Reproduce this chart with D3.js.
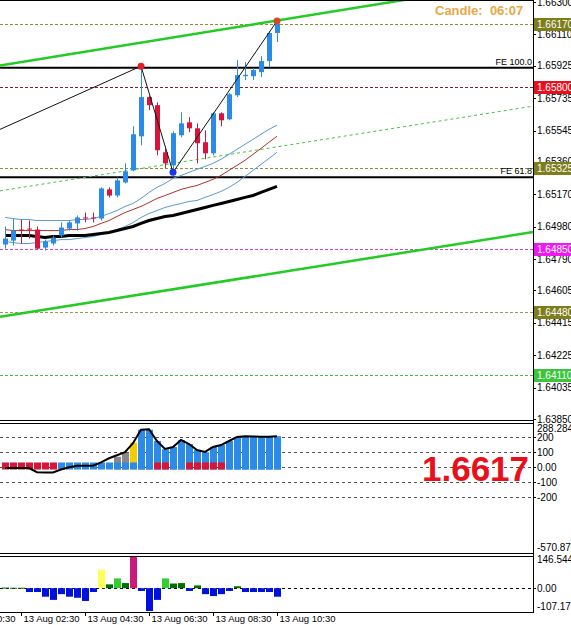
<!DOCTYPE html>
<html>
<head>
<meta charset="utf-8">
<script src="https://cdn.jsdelivr.net/npm/d3@7.9.0/dist/d3.min.js"></script>
<style>
  body { margin: 0; background: #fff; }
  svg { display: block; }
  text { font-family: "Liberation Sans", Arial, sans-serif; }
</style>
</head>
<body>
<svg id="chart" width="571" height="625"></svg>
<script>
// -------------------------
// Data (15 min bars, 13 Aug 02:00 .. 10:30)
// -------------------------
const opens  = [1.64875,1.64898,1.64963,1.64969,1.64963,1.64857,1.64881,1.64928,1.64969,1.64999,1.65034,1.65034,1.65028,1.65199,1.65163,1.65240,1.65311,1.65511,1.65741,1.65694,1.65417,1.65340,1.65517,1.65593,1.65558,1.65476,1.65411,1.65646,1.65611,1.65752,1.65864,1.65864,1.65888,1.65953,1.66118];
const highs  = [1.64981,1.65028,1.65022,1.65016,1.64981,1.64904,1.64928,1.65005,1.65016,1.65046,1.65063,1.65063,1.65211,1.65211,1.65270,1.65352,1.65570,1.65923,1.65747,1.65711,1.65440,1.65540,1.65652,1.65623,1.65587,1.65546,1.65652,1.65652,1.65764,1.65959,1.65947,1.65912,1.65982,1.66129,1.66188];
const lows   = [1.64851,1.64869,1.64881,1.64910,1.64846,1.64840,1.64869,1.64916,1.64957,1.64957,1.65005,1.65005,1.65016,1.65152,1.65152,1.65234,1.65305,1.65458,1.65664,1.65399,1.65323,1.65299,1.65505,1.65535,1.65352,1.65376,1.65399,1.65570,1.65605,1.65741,1.65841,1.65841,1.65859,1.65917,1.66065];
const closes = [1.64910,1.64957,1.64957,1.64963,1.64851,1.64893,1.64916,1.64975,1.65005,1.65034,1.65028,1.65028,1.65205,1.65163,1.65252,1.65305,1.65523,1.65741,1.65694,1.65429,1.65352,1.65529,1.65587,1.65558,1.65470,1.65411,1.65646,1.65605,1.65758,1.65870,1.65872,1.65900,1.65953,1.66118,1.66171];

// envelope / moving averages
const maUpper = [1.65034,1.65028,1.65022,1.65022,1.65016,1.65016,1.65016,1.65016,1.65016,1.65022,1.65022,1.65028,1.65040,1.65057,1.65075,1.65099,1.65116,1.65146,1.65181,1.65211,1.65234,1.65264,1.65281,1.65299,1.65317,1.65334,1.65352,1.65376,1.65405,1.65434,1.65464,1.65493,1.65523,1.65552,1.65576];
const maMid   = [1.64963,1.64957,1.64957,1.64957,1.64957,1.64957,1.64957,1.64957,1.64963,1.64963,1.64969,1.64981,1.64999,1.65016,1.65040,1.65063,1.65081,1.65099,1.65122,1.65146,1.65163,1.65181,1.65199,1.65211,1.65222,1.65240,1.65258,1.65281,1.65311,1.65340,1.65370,1.65405,1.65440,1.65476,1.65511];
const maLower = [1.64893,1.64887,1.64881,1.64881,1.64887,1.64893,1.64898,1.64904,1.64904,1.64910,1.64916,1.64922,1.64934,1.64946,1.64963,1.64981,1.65004,1.65034,1.65057,1.65075,1.65093,1.65105,1.65116,1.65128,1.65134,1.65152,1.65169,1.65187,1.65211,1.65240,1.65275,1.65311,1.65346,1.65381,1.65417];
const maSlow  = [1.64928,1.64928,1.64928,1.64928,1.64922,1.64916,1.64922,1.64922,1.64928,1.64928,1.64928,1.64934,1.64940,1.64946,1.64957,1.64969,1.64981,1.64999,1.65016,1.65028,1.65040,1.65046,1.65057,1.65069,1.65081,1.65093,1.65105,1.65116,1.65128,1.65140,1.65152,1.65163,1.65181,1.65199,1.65217];

// zigzag swing points (bar index, price)
const zigzag = [[-10, 1.65354], [17, 1.65923], [21, 1.65299], [34, 1.66188]];

// channel lines, two anchors each (bar index, price)
const channelUpper = [[0, 1.65932], [34, 1.66191]];
const channelMid   = [[0, 1.65195], [34, 1.65449]];
const channelLower = [[0, 1.64455], [34, 1.64709]];

// horizontal levels
const levelPrices = [1.66170, 1.65800, 1.65325, 1.64850, 1.64480, 1.64110];
const levelLabels = ['1.66170', '1.65800', '1.65325', '1.64850', '1.64480', '1.64110'];
const fePrices = [1.65914, 1.65270];
const feLabels = ['FE 100.0', 'FE 61.8'];

// price axis
const priceTicks = [1.66300,1.66110,1.65925,1.65735,1.65545,1.65360,1.65170,1.64980,1.64790,1.64605,1.64415,1.64225,1.64035,1.63850];

// time axis
const timeTickBars = [-6, 2, 10, 18, 26, 34];
const timeTickLabels = ['13 Aug 00:30', '13 Aug 02:30', '13 Aug 04:30', '13 Aug 06:30', '13 Aug 08:30', '13 Aug 10:30'];

// oscillator window 1
const oscLine = [-5,-5,-5,-5,-33,-35,-35,-15,0,10,10,10,33,60,80,100,160,250,253,175,122,135,182,155,115,102,135,148,175,202,207,205,203,203,207];
const oscHist = [null,null,null,null,null,null,null,null,null,null,null,null,null,null,70,95,165,250,250,175,120,135,180,155,115,100,135,148,175,200,207,205,203,203,207];
const oscHistType = ['','','','','','','','','','','','','','','flat','flat','warn','up','up','up','up','up','up','up','up','up','up','up','up','up','up','up','up','up','up'];
const oscBand = ['dn','dn','dn','dn','dn','dn','dn','up','up','up','up','up','up','up','up','up','up','up','up','dn','dn','up','up','dn','dn','dn','dn','dn','up','up','up','up','up','up','up'];
const oscBandRange = [-15, 32];
const oscGrid = [200, 100, 0, -100, -200];
const oscGridLabels = ['200', '100', '0.00', '-100', '-200'];
const oscDomain = [-570.878, 288.2847];
const lastPrice = '1.6617';

// oscillator window 2
const histValues = [3,2,2,-18,-18,-40,-55,-28,-40,-45,-60,-18,87,18,46,24,146.5449,-13,-107.173,-55,46,22,24,-13,13,-28,-37,-28,-13,9,-18,-18,-18,-18,-40];
const histType = ['dg','dg','dg','bl','bl','bl','bl','bl','bl','bl','bl','bl','ye','dg','lg','dg','mg','bl','bl','bl','lg','dg','dg','bl','dg','bl','bl','bl','bl','dg','bl','bl','bl','bl','bl'];
const histDomain = [-107.173, 146.5449];

// -------------------------
// Styles
// -------------------------
const bull = '#2b8be6', bear = '#d8143a';
const levelColors = ['#8f8f3a', '#8b1a2a', '#8f8f3a', '#cc44cc', '#9a9a55', '#44bb44'];
const levelBg = ['#7d7d1c', '#e8101e', '#7d7d1c', '#f018f0', '#7d7d1c', '#3cc43c'];
const histColors = { dg: '#006e00', lg: '#33cc33', ye: '#ffff55', mg: '#cc1a7a', bl: '#0010dd' };
const oscColors = { flat: '#888888', warn: '#f5cc00', up: bull };

const W = 571, H = 625, plotR = 533;
const svg = d3.select('#chart');
svg.append('rect').attr('width', W).attr('height', H).attr('fill', '#fff');

const x = d3.scaleLinear().domain([0, 34]).range([5, 277]);
const y = d3.scaleLinear().domain([1.6385, 1.663]).range([419, 2]);
const yOsc = d3.scaleLinear().domain(oscDomain).range([553, 424]);
const yHist = d3.scaleLinear().domain(histDomain).range([611, 557]);
const px = v => Math.round(v) + 0.5;

const defs = svg.append('defs');
[['clipMain', 0, 0, plotR, 420], ['clipOsc', 0, 424, plotR, 129], ['clipHist', 0, 557, plotR, 55]]
  .forEach(([id, cx, cy, cw, ch]) => {
    defs.append('clipPath').attr('id', id)
      .append('rect').attr('x', cx).attr('y', cy).attr('width', cw).attr('height', ch);
  });

// -------------------------
// Main chart
// -------------------------
const main = svg.append('g').attr('clip-path', 'url(#clipMain)');

levelPrices.forEach((p, k) => {
  main.append('line')
    .attr('x1', 0).attr('x2', plotR)
    .attr('y1', px(y(p))).attr('y2', px(y(p)))
    .attr('stroke', levelColors[k]).attr('stroke-dasharray', '3,2');
});

fePrices.forEach((p, k) => {
  main.append('line')
    .attr('x1', 0).attr('x2', plotR)
    .attr('y1', y(p)).attr('y2', y(p))
    .attr('stroke', '#000').attr('stroke-width', 2);
  main.append('text')
    .attr('x', plotR - 1).attr('y', y(p) - 3)
    .attr('text-anchor', 'end').attr('font-size', 9).attr('fill', '#000')
    .text(feLabels[k]);
});

// channel lines, extended across the window
function channel(pts, stroke, width, dash) {
  const f = d3.scaleLinear().domain([pts[0][0], pts[1][0]]).range([pts[0][1], pts[1][1]]);
  const i0 = x.invert(0), i1 = x.invert(plotR);
  main.append('line')
    .attr('x1', 0).attr('y1', y(f(i0)))
    .attr('x2', plotR).attr('y2', y(f(i1)))
    .attr('stroke', stroke).attr('stroke-width', width)
    .attr('stroke-dasharray', dash);
}
channel(channelMid, '#3fc43f', 1, '3,3');
channel(channelUpper, '#22cc22', 2.5, null);
channel(channelLower, '#22cc22', 2.5, null);

// moving averages
const maLine = d3.line().x((d, i) => x(i)).y(d => y(d));
[[maUpper, '#5b9bd0', 1], [maLower, '#5b9bd0', 1], [maMid, '#b2302a', 1], [maSlow, '#000', 3]]
  .forEach(([data, col, w]) => {
    main.append('path').attr('d', maLine(data))
      .attr('fill', 'none').attr('stroke', col).attr('stroke-width', w);
  });

// candles
opens.forEach((o, i) => {
  const c = closes[i];
  const col = c >= o ? bull : bear;
  const cx = Math.round(x(i));
  main.append('line')
    .attr('x1', cx + 0.5).attr('x2', cx + 0.5)
    .attr('y1', y(highs[i])).attr('y2', y(lows[i]))
    .attr('stroke', col);
  const top = y(Math.max(o, c)), bot = y(Math.min(o, c));
  main.append('rect')
    .attr('x', cx - 2).attr('width', 5)
    .attr('y', top).attr('height', Math.max(1, bot - top))
    .attr('fill', col);
});

// zigzag
main.append('path')
  .attr('d', d3.line().x(d => x(d[0])).y(d => y(d[1]))(zigzag))
  .attr('fill', 'none').attr('stroke', '#111').attr('stroke-width', 1);
const dotColors = ['#e0202a', '#1a33ee', '#d04a2a'];
zigzag.slice(1).forEach((d, k) => {
  main.append('circle').attr('cx', x(d[0])).attr('cy', y(d[1])).attr('r', 3.5)
    .attr('fill', dotColors[k]);
});

main.append('text')
  .attr('x', 435).attr('y', 15)
  .attr('font-size', 13).attr('font-weight', 'bold').attr('fill', '#e8a848')
  .attr('xml:space', 'preserve')
  .text('Candle:  06:07');

// price axis
priceTicks.forEach(p => {
  svg.append('line').attr('x1', plotR).attr('x2', plotR + 3)
    .attr('y1', px(y(p))).attr('y2', px(y(p))).attr('stroke', '#000');
  svg.append('text').attr('x', 537).attr('y', y(p) + 3.5)
    .attr('font-size', 10).attr('fill', '#000').text(p.toFixed(5));
});
levelPrices.forEach((p, k) => {
  svg.append('rect').attr('x', plotR + 1).attr('y', Math.round(y(p)) - 6)
    .attr('width', W - plotR).attr('height', 13).attr('fill', levelBg[k]);
  svg.append('text').attr('x', 537).attr('y', y(p) + 4)
    .attr('font-size', 10).attr('fill', '#fff').text(levelLabels[k]);
});

// -------------------------
// Oscillator window 1
// -------------------------
const osc = svg.append('g').attr('clip-path', 'url(#clipOsc)');
oscGrid.forEach(v => {
  osc.append('line').attr('x1', 0).attr('x2', plotR)
    .attr('y1', px(yOsc(v))).attr('y2', px(yOsc(v)))
    .attr('stroke', '#555').attr('stroke-dasharray', '3,3');
});
oscHist.forEach((v, i) => {
  if (v === null) return;
  osc.append('rect')
    .attr('x', Math.round(x(i)) - 3).attr('width', 7)
    .attr('y', yOsc(v)).attr('height', yOsc(oscBandRange[0]) - yOsc(v))
    .attr('fill', oscColors[oscHistType[i]]);
});
oscBand.forEach((b, i) => {
  osc.append('rect')
    .attr('x', Math.round(x(i)) - 3).attr('width', 7)
    .attr('y', yOsc(oscBandRange[1]))
    .attr('height', yOsc(oscBandRange[0]) - yOsc(oscBandRange[1]))
    .attr('fill', b === 'up' ? bull : bear);
});
osc.append('path')
  .attr('d', d3.line().x((d, i) => x(i)).y(d => yOsc(d))(oscLine))
  .attr('fill', 'none').attr('stroke', '#000').attr('stroke-width', 2);

svg.append('text').attr('x', 422).attr('y', 481)
  .attr('font-size', 35).attr('font-weight', 'bold').attr('fill', '#e8101a')
  .text(lastPrice);

svg.append('text').attr('x', 537).attr('y', yOsc(oscDomain[1]) + 8)
  .attr('font-size', 10).text(oscDomain[1].toFixed(4));
oscGrid.forEach((v, k) => {
  svg.append('line').attr('x1', plotR).attr('x2', plotR + 3)
    .attr('y1', px(yOsc(v))).attr('y2', px(yOsc(v))).attr('stroke', '#000');
  svg.append('text').attr('x', 537).attr('y', yOsc(v) + 3.5)
    .attr('font-size', 10).text(oscGridLabels[k]);
});
svg.append('text').attr('x', 537).attr('y', yOsc(oscDomain[0]) - 2)
  .attr('font-size', 10).text(oscDomain[0].toFixed(3));

// -------------------------
// Oscillator window 2
// -------------------------
const hist = svg.append('g').attr('clip-path', 'url(#clipHist)');
hist.append('line').attr('x1', 0).attr('x2', plotR)
  .attr('y1', px(yHist(0))).attr('y2', px(yHist(0)))
  .attr('stroke', '#000').attr('stroke-dasharray', '3,3');
histValues.forEach((v, i) => {
  const y0 = yHist(0), y1 = yHist(v);
  hist.append('rect')
    .attr('x', Math.round(x(i)) - 3).attr('width', 7)
    .attr('y', Math.min(y0, y1)).attr('height', Math.max(1, Math.abs(y1 - y0)))
    .attr('fill', histColors[histType[i]]);
});
[[histDomain[1], histDomain[1].toFixed(4), 6], [0, '0.00', 3.5], [histDomain[0], histDomain[0].toFixed(3), -1]]
  .forEach(([v, label, dy]) => {
    svg.append('text').attr('x', 537).attr('y', yHist(v) + dy)
      .attr('font-size', 10).text(label);
  });
svg.append('line').attr('x1', plotR).attr('x2', plotR + 3)
  .attr('y1', px(yHist(0))).attr('y2', px(yHist(0))).attr('stroke', '#000');

// -------------------------
// Time axis
// -------------------------
timeTickBars.forEach((b, k) => {
  const tx = Math.round(x(b)) + 0.5;
  svg.append('line').attr('x1', tx).attr('x2', tx).attr('y1', 612).attr('y2', 616).attr('stroke', '#000');
  svg.append('text').attr('x', tx + 2).attr('y', 622)
    .attr('font-size', 9.5).text(timeTickLabels[k]);
});

// -------------------------
// Window borders
// -------------------------
[0.5, 420.5, 423.5, 553.5, 556.5, 612.5].forEach(by => {
  svg.append('line').attr('x1', 0).attr('x2', plotR).attr('y1', by).attr('y2', by).attr('stroke', '#000');
});
svg.append('line').attr('x1', plotR + 0.5).attr('x2', plotR + 0.5).attr('y1', 0).attr('y2', 613).attr('stroke', '#000');
</script>
</body>
</html>
